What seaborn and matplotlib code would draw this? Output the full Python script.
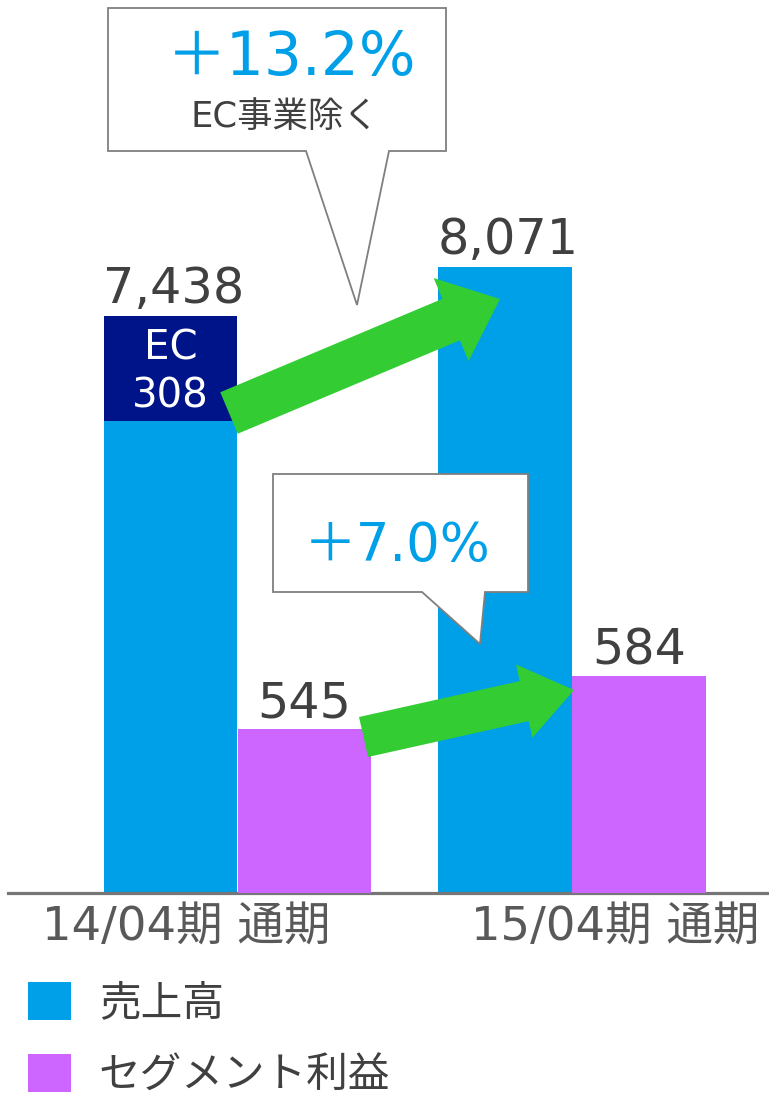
import numpy as np
import pandas as pd
import matplotlib
matplotlib.use("Agg")
import matplotlib.pyplot as plt
from matplotlib.patches import Polygon, Patch, Rectangle
from matplotlib.transforms import ScaledTranslation
import seaborn as sns

# ---- data ----
periods = ["14/04期 通期", "15/04期 通期"]
series = ["売上高", "セグメント利益"]
sales = [7438, 8071]
segment_profit = [545, 584]
ec_sales = 308
growth_sales_label = "＋13.2%"
growth_sales_note = "EC事業除く"
growth_profit_label = "＋7.0%"

colors = {"売上高": "#00A0E9", "セグメント利益": "#CC66FF"}
NAVY = "#001489"
GREEN = "#33CC33"
TXT = "#404040"

sns.set_theme(style="white")
plt.rcParams["font.family"] = ["DejaVu Sans", "Noto Sans CJK JP"]

W, H = 769, 1101
fig = plt.figure(figsize=(W / 100, H / 100), dpi=100)

def fx(px):
    return px / W

def fy(py):
    return 1 - py / H

ax1 = fig.add_axes([fx(8), 208 / H, 761 / W, 893 / H])
ax2 = ax1.twinx()

df = pd.DataFrame({
    "period": periods * 2,
    "series": [series[0]] * len(periods) + [series[1]] * len(periods),
    "value": sales + segment_profit,
})
# each axis shows only its own series; the other keeps its dodge slot with zero height
df["v_sales"] = df["value"].where(df["series"] == series[0], 0)
df["v_profit"] = df["value"].where(df["series"] == series[1], 0)

sns.barplot(data=df, x="period", y="v_sales", hue="series", hue_order=series,
            order=periods, palette=colors, ax=ax1, legend=False, saturation=1,
            width=0.8, linewidth=0)
sns.barplot(data=df, x="period", y="v_profit", hue="series", hue_order=series,
            order=periods, palette=colors, ax=ax2, legend=False, saturation=1,
            width=0.8, linewidth=0)

xl = (-229.5 / 334.5, (761 - 229.5) / 334.5)
ax1.set_xlim(*xl)
ax2.set_xlim(*xl)
ax1.set_ylim(0, 893 / 0.0776)
ax2.set_ylim(424, 424 + 893 / 1.359)

for a in (ax1, ax2):
    for s in ("top", "right", "left"):
        a.spines[s].set_visible(False)
    a.set_yticks([])
    a.set_ylabel("")
    a.set_xlabel("")
    a.grid(False)
ax2.spines["bottom"].set_visible(False)
ax1.spines["bottom"].set_color("#767676")
ax1.spines["bottom"].set_linewidth(2.3)
ax1.spines["bottom"].set_zorder(5)

ax1.set_xticks(range(len(periods)))
ax1.set_xticklabels(periods, fontsize=33.5, color="#595959")
ax1.tick_params(axis="x", length=0, pad=9)
for lab, dx in zip(ax1.get_xticklabels(), [-51, 43]):
    lab.set_transform(lab.get_transform() + ScaledTranslation(dx / 100, 0, fig.dpi_scale_trans))
ax2.tick_params(axis="x", length=0, labelbottom=False)

# bars
blue_bars = [p for p in ax1.patches if p.get_height() > 0]
pink_bars = [p for p in ax2.patches if p.get_height() > 0]

# EC box on top of first sales bar
b0 = blue_bars[0]
ec_h = (421 - 316) / 893 * (893 / 0.0776)
ax1.add_patch(Rectangle((b0.get_x(), b0.get_height() - ec_h), b0.get_width(), ec_h,
                        facecolor=NAVY, edgecolor="none", zorder=3))
cx = b0.get_x() + b0.get_width() / 2
for txt, dy in (("EC", 24), (f"{ec_sales}", -24)):
    ax1.annotate(txt, (cx, b0.get_height() - ec_h / 2), xytext=(0, dy * 0.72),
                 textcoords="offset points", ha="center", va="center_baseline",
                 color="white", fontsize=29, zorder=4)

# value labels
for bar, v in zip(blue_bars, sales):
    ax1.annotate(f"{v:,}", (bar.get_x() + bar.get_width() / 2, bar.get_height()),
                 xytext=(2, 9), textcoords="offset points", ha="center", va="baseline",
                 fontsize=35.5, color=TXT, zorder=6)
for bar, v in zip(pink_bars, segment_profit):
    ax2.annotate(f"{v:,}", (bar.get_x() + bar.get_width() / 2, bar.get_height()),
                 xytext=(0, 8), textcoords="offset points", ha="center",
                 va="baseline", fontsize=35.5, color=TXT, zorder=6)

# arrows (drawn in figure pixel space)
def arrow_poly(tail, tip, shaft_w, head_w, head_l):
    tail = np.array(tail, float)
    tip = np.array(tip, float)
    d = tip - tail
    L = np.hypot(*d)
    u = d / L
    n = np.array([-u[1], u[0]])
    base = tip - u * head_l
    pts = [tail + n * shaft_w / 2, base + n * shaft_w / 2, base + n * head_w / 2, tip,
           base - n * head_w / 2, base - n * shaft_w / 2, tail - n * shaft_w / 2]
    return [(p[0] / W, 1 - p[1] / H) for p in pts]

fig.add_artist(Polygon(arrow_poly((229, 413), (500, 299), 45, 90, 53), closed=True,
                       facecolor=GREEN, edgecolor="none", transform=fig.transFigure, zorder=7))
fig.add_artist(Polygon(arrow_poly((363.5, 737), (574, 690), 41, 75, 51), closed=True,
                       facecolor=GREEN, edgecolor="none", transform=fig.transFigure, zorder=7))

# callouts
def callout(pts):
    fig.add_artist(Polygon([(fx(x), fy(y)) for x, y in pts], closed=True, facecolor="white",
                           edgecolor="#7F7F7F", linewidth=1.3, transform=fig.transFigure,
                           zorder=8))

callout([(108, 8), (446, 8), (446, 151), (389, 151), (357, 305), (306, 151), (108, 151)])
callout([(273, 474), (528, 474), (528, 592), (485, 592), (480, 644), (422, 592), (273, 592)])

fig.text(fx(292), fy(52), growth_sales_label, ha="center", va="center_baseline", fontsize=43,
         color="#00A0E9", zorder=9)
fig.text(fx(285), fy(113), growth_sales_note, ha="center", va="center_baseline", fontsize=25.5,
         color=TXT, zorder=9)
fig.text(fx(397), fy(540), growth_profit_label, ha="center", va="center_baseline", fontsize=38,
         color="#00A0E9", zorder=9)

# legend
handles = [Patch(facecolor=colors[s], edgecolor="none", label=s) for s in series]
fig.legend(handles=handles, loc="upper left", bbox_to_anchor=(fx(28), fy(982)),
           frameon=False, fontsize=30, handlelength=1.03, handleheight=1.03,
           handletextpad=0.67, labelspacing=0.72, borderaxespad=0, borderpad=0,
           labelcolor=TXT)

fig.savefig("out.png", dpi=100)
